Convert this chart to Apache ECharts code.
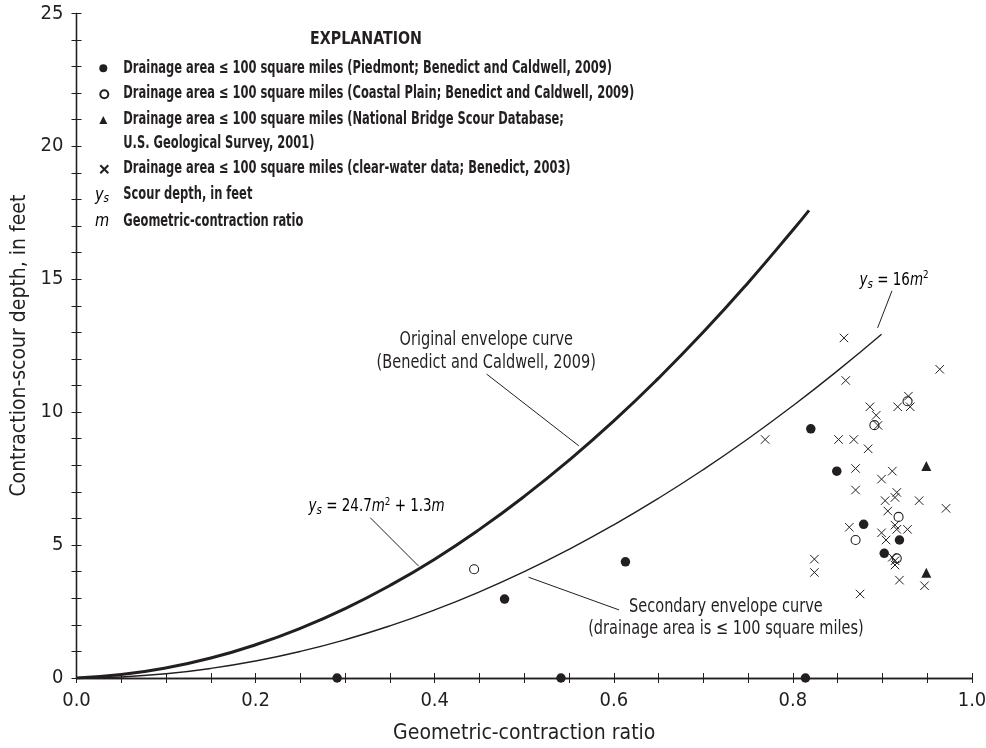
<!DOCTYPE html>
<html><head><meta charset="utf-8">
<script src="https://cdn.jsdelivr.net/npm/echarts@6/dist/echarts.min.js"></script>
<style>html,body{margin:0;padding:0;background:#fff}#c{width:986px;height:748px}</style>
</head><body><div id="c"></div>
<script>
// ---------- data ----------
const xTicks = [0, 0.2, 0.4, 0.6, 0.8, 1.0];
const yTicks = [0, 5, 10, 15, 20, 25];
const seriesNames = [
  'Drainage area \u2264 100 square miles (Piedmont; Benedict and Caldwell, 2009)',
  'Drainage area \u2264 100 square miles (Coastal Plain; Benedict and Caldwell, 2009)',
  'Drainage area \u2264 100 square miles (National Bridge Scour Database;\nU.S. Geological Survey, 2001)',
  'Drainage area \u2264 100 square miles (clear-water data; Benedict, 2003)'
];
const piedmont = [[0.291,0],[0.541,0],[0.814,0],[0.478,2.97],[0.613,4.37],[0.820,9.37],[0.849,7.78],[0.879,5.78],[0.902,4.69],[0.919,5.19]];
const coastal = [[0.444,4.09],[0.891,9.51],[0.928,10.41],[0.918,6.06],[0.870,5.19],[0.916,4.50]];
const nbsd = [[0.949,7.97],[0.949,3.96]];
const clearWater = [
  [0.857,12.79],[0.859,11.19],[0.964,11.61],[0.886,10.20],[0.893,9.88],[0.895,9.50],[0.917,10.20],[0.929,10.60],[0.931,10.20],
  [0.769,8.97],[0.851,8.97],[0.868,8.97],[0.884,8.62],[0.870,7.88],[0.911,7.78],[0.899,7.48],[0.870,7.07],[0.916,6.98],
  [0.914,6.79],[0.903,6.67],[0.941,6.67],[0.971,6.38],[0.906,6.28],[0.863,5.67],[0.914,5.75],[0.916,5.59],[0.928,5.59],
  [0.899,5.46],[0.904,5.19],[0.911,4.54],[0.914,4.41],[0.914,4.25],[0.824,4.47],[0.824,3.97],[0.919,3.68],[0.947,3.47],[0.875,3.16]
];
// envelope curves, points
const originalCurve = [[0,0],[0.05,0.13],[0.1,0.38],[0.15,0.75],[0.2,1.25],[0.25,1.87],[0.3,2.61],[0.35,3.48],[0.4,4.47],[0.45,5.59],[0.5,6.83],[0.55,8.19],[0.6,9.67],[0.65,11.28],[0.7,13.01],[0.75,14.87],[0.8,16.85],[0.818,17.59]];
const secondaryCurve = [[0,0],[0.05,0.04],[0.1,0.16],[0.15,0.36],[0.2,0.64],[0.25,1.0],[0.3,1.44],[0.35,1.96],[0.4,2.56],[0.45,3.24],[0.5,4.0],[0.55,4.84],[0.6,5.76],[0.65,6.76],[0.7,7.84],[0.75,9.0],[0.8,10.24],[0.85,11.56],[0.899,12.93]];

// ---------- styling ----------
const FONT = '"DejaVu Sans Condensed","Liberation Sans Narrow","Liberation Sans",sans-serif';
const INK = '#231f20';
const CROSS = 'path://M0,0L10,10M10,0L0,10';

const chart = echarts.init(document.getElementById('c'), null, {renderer: 'canvas'});
const axisCommon = {
  type: 'value', min: 0, splitLine: {show: false},
  axisLine: {show: true, lineStyle: {color: INK, width: 1.3}},
  axisTick: {show: true, inside: true, length: 5, lineStyle: {color: INK, width: 1}},
};
const legendCommon = {
  orient: 'vertical', padding: 0, itemWidth: 8, itemHeight: 8, selectedMode: false,
  textStyle: {fontSize: 1, color: 'rgba(0,0,0,0)'}, formatter: () => ''
};
const legendRowsY = [68.3, 93.3, 120, 168.3];

chart.setOption({
  animation: false,
  backgroundColor: '#fff',
  grid: {left: 76.5, right: 14, top: 13.3, bottom: 70, containLabel: false, outerBoundsMode: 'none'},
  xAxis: [
    Object.assign({}, axisCommon, {
      max: 1, interval: 0.05, position: 'bottom',
      name: 'Geometric-contraction ratio', nameLocation: 'middle', nameGap: 45,
      nameTextStyle: {fontFamily: FONT, fontSize: 21, color: INK},
      axisLabel: {fontFamily: FONT, fontSize: 20, color: INK, margin: 13,
        formatter: v => xTicks.some(t => Math.abs(t - v) < 1e-6) ? v.toFixed(1) : ''}
    }),
    Object.assign({}, axisCommon, {max: 1, interval: 0.05, position: 'top', axisLabel: {show: false}})
  ],
  yAxis: [
    Object.assign({}, axisCommon, {
      max: 25, interval: 1, position: 'left',
      name: 'Contraction-scour depth, in feet', nameLocation: 'middle', nameGap: 44,
      nameTextStyle: {fontFamily: FONT, fontSize: 21, color: INK},
      axisLabel: {fontFamily: FONT, fontSize: 20, color: INK, margin: 13,
        formatter: v => yTicks.some(t => Math.abs(t - v) < 1e-6) ? String(v) : ''}
    }),
    Object.assign({}, axisCommon, {max: 25, interval: 1, position: 'right', axisLabel: {show: false}})
  ],
  legend: seriesNames.map((n, i) => Object.assign({}, legendCommon, {data: [n], left: 99.3, top: legendRowsY[i] - 4})),
  series: [
    {type: 'line', name: 'Original envelope curve', data: originalCurve, smooth: true, showSymbol: false, silent: true,
      lineStyle: {color: INK, width: 3}, z: 1},
    {type: 'line', name: 'Secondary envelope curve', data: secondaryCurve, smooth: true, showSymbol: false, silent: true,
      lineStyle: {color: INK, width: 1.4}, z: 1},
    {type: 'scatter', name: seriesNames[0], data: piedmont, symbol: 'circle', symbolSize: 9.5,
      itemStyle: {color: INK, opacity: 1}, z: 3},
    {type: 'scatter', name: seriesNames[1], data: coastal, symbol: 'circle', symbolSize: 9,
      itemStyle: {color: '#fff', borderColor: INK, borderWidth: 1.1, opacity: 1}, z: 3},
    {type: 'scatter', name: seriesNames[2], data: nbsd, symbol: 'triangle', symbolSize: 10,
      itemStyle: {color: INK, opacity: 1}, z: 3},
    {type: 'scatter', name: seriesNames[3], data: clearWater, symbol: CROSS, symbolSize: 8.5,
      itemStyle: {color: 'rgba(0,0,0,0)', borderColor: INK, borderWidth: 1, opacity: 1}, z: 3}
  ]
});

// ---------- annotations (placed in data coordinates) ----------
const px = (m, y) => chart.convertToPixel({xAxisIndex: 0, yAxisIndex: 0}, [m, y]);
const annoFont = {fontFamily: FONT, fontSize: 19, fill: INK};
const eqRich = {
  n: {fontFamily: FONT, fontSize: 17, color: INK, lineHeight: 21},
  i: {fontFamily: FONT, fontSize: 17, fontStyle: 'italic', color: INK, lineHeight: 21},
  s: {fontFamily: FONT, fontSize: 13, fontStyle: 'italic', color: INK, lineHeight: 13, verticalAlign: 'bottom'},
  p: {fontFamily: FONT, fontSize: 11, color: INK, lineHeight: 11, verticalAlign: 'top'}
};
const legRich = {
  i: {fontFamily: FONT, fontSize: 18, fontStyle: 'italic', color: INK, lineHeight: 21},
  s: {fontFamily: FONT, fontSize: 13, fontStyle: 'italic', color: INK, lineHeight: 13, verticalAlign: 'bottom'}
};
const leaders = [
  [[0.458, 11.43], [0.561, 8.73]],
  [[0.328, 6.03], [0.382, 4.21]],
  [[0.9106, 14.56], [0.8946, 13.17]],
  [[0.5048, 3.79], [0.6059, 2.56]]
];
const g = [];
leaders.forEach(l => {
  const a = px(l[0][0], l[0][1]), b = px(l[1][0], l[1][1]);
  g.push({type: 'line', shape: {x1: a[0], y1: a[1], x2: b[0], y2: b[1]}, style: {stroke: INK, lineWidth: 1}, silent: true});
});
let p = px(0.4576, 12.27);
g.push({type: 'text', x: p[0], y: p[1], scaleX: 0.85, style: Object.assign({text: 'Original envelope curve\n(Benedict and Caldwell, 2009)', align: 'center', verticalAlign: 'middle', lineHeight: 23}, annoFont)});
p = px(0.7252, 2.27);
g.push({type: 'text', x: p[0], y: p[1], scaleX: 0.85, style: Object.assign({text: 'Secondary envelope curve\n(drainage area is \u2264 100 square miles)', align: 'center', verticalAlign: 'middle', lineHeight: 22}, annoFont)});
p = px(0.2592, 6.43);
g.push({type: 'text', x: p[0], y: p[1], scaleX: 0.88, style: {text: '{i|y}{s|s}{n| = 24.7}{i|m}{p|2}{n| + 1.3}{i|m}', rich: eqRich, align: 'left', verticalAlign: 'middle'}});
p = px(0.8745, 14.96);
g.push({type: 'text', x: p[0], y: p[1], scaleX: 0.88, style: {text: '{i|y}{s|s}{n| = 16}{i|m}{p|2}', rich: eqRich, align: 'left', verticalAlign: 'middle'}});

// explanation (legend text; icons come from the legend components)
const legFont = {fontFamily: FONT, fontSize: 17, fontWeight: 'bold', fill: INK};
const LX = 123.3, LS = 0.75;
g.push({type: 'text', x: 366, y: 40, scaleX: 0.93, style: Object.assign({text: 'EXPLANATION', align: 'center', verticalAlign: 'middle'}, legFont)});
const legLines = [
  [seriesNames[0], 68.3], [seriesNames[1], 93.3], [seriesNames[2].split('\n')[0], 120], [seriesNames[2].split('\n')[1], 143.3],
  [seriesNames[3], 168.3], ['Scour depth, in feet', 195], ['Geometric-contraction ratio', 221.7]
];
legLines.forEach(r => g.push({type: 'text', x: LX, y: r[1], scaleX: LS, style: Object.assign({text: r[0], align: 'left', verticalAlign: 'middle'}, legFont)}));
g.push({type: 'text', x: 102, y: 195, scaleX: 0.9, style: {text: '{i|y}{s|s}', rich: legRich, align: 'center', verticalAlign: 'middle'}});
g.push({type: 'text', x: 102, y: 221.7, scaleX: 0.9, style: {text: '{i|m}', rich: legRich, align: 'center', verticalAlign: 'middle'}});

chart.setOption({graphic: g});
</script></body></html>
